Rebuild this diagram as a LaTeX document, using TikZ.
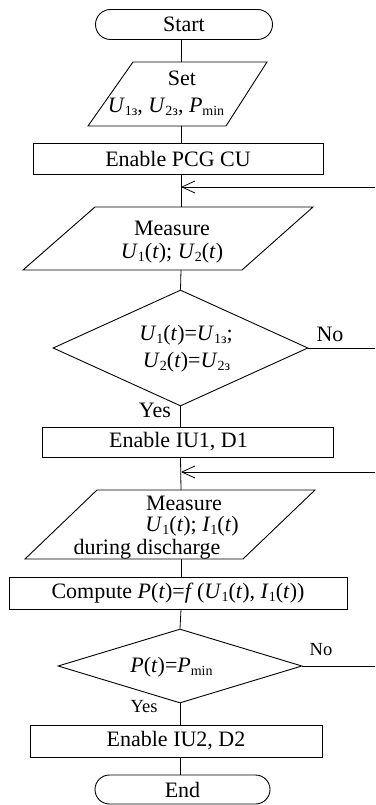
\documentclass[tikz,border=0pt]{standalone}
\usepackage{fontspec}
\setmainfont{Liberation Serif}
\usetikzlibrary{arrows.meta,shapes.misc,shapes.geometric}
\newcommand\lo[1]{\raisebox{-0.3ex}{\fontsize{14}{14}\selectfont #1}}
\newcommand\iv[1]{\textit{#1}}
\begin{document}
\begin{tikzpicture}[x=1pt,y=-1pt,line width=0.9pt,
  txt/.style={font=\fontsize{22}{26}\selectfont,inner sep=0pt,align=center},
  sml/.style={font=\fontsize{18.5}{22}\selectfont,inner sep=0pt},
  term/.style={rounded rectangle,draw,txt,minimum width=177pt,minimum height=30pt},
  box/.style={rectangle,draw,txt,minimum height=31pt},
  dia/.style={diamond,draw,inner sep=0pt},
  con/.style={line width=0.8pt},
  back/.style={line width=0.8pt,-{Straight Barb[length=13pt,width=12pt,line width=0.8pt]}}]
\useasboundingbox (0,0) rectangle (375,805);

% terminals and boxes
\node[term] (start) at (184,24.5) {Start};
\node[box,minimum width=290pt] (pcg) at (178,158.5) {Enable PCG CU};
\node[box,minimum width=291pt,minimum height=30pt] (iu1) at (187.5,442) {};
\node[txt] (iu1t) at (178.5,442) {Enable IU1, D1};
\node[box,minimum width=338pt,minimum height=32pt] (comp) at (178,593) {Compute \iv{P}(\iv{t})=\iv{f}\,(\iv{U}\lo{1}(\iv{t}), \iv{I}\lo{1}(\iv{t}))};
\node[box,minimum width=292pt,minimum height=32pt] (iu2) at (176,741) {Enable IU2, D2};
\node[term,minimum width=175pt,minimum height=29pt] (end) at (182.5,789.5) {End};

% parallelograms
\draw (133,62) coordinate (set-t) -- (267,62) -- (226,126) -- (88,126) -- cycle;
\coordinate (set-in) at (181,62);
\coordinate (set-out) at (181,126);
\node[txt] (set1) at (182,78) {Set};
\node[txt] (set2) at (166,107) {\iv{U}\lo{1з}, \iv{U}\lo{2з}, \iv{P}\lo{min}};

\draw (95,207) -- (313,207) -- (242,270) -- (23,270) -- cycle;
\coordinate (m1-in) at (181,207);
\coordinate (m1-out) at (181,270);
\node[txt] (m1a) at (172,228) {Measure};
\node[txt] (m1b) at (172,253) {\iv{U}\lo{1}(\iv{t}); \iv{U}\lo{2}(\iv{t})};

\draw (97,490) -- (315,490) -- (243,559) -- (25,559) -- cycle;
\coordinate (m2-in) at (181,490);
\coordinate (m2-out) at (181,559);
\node[txt] (m2a) at (184,503) {Measure};
\node[txt] (m2b) at (192,526) {\iv{U}\lo{1}(\iv{t}); \iv{I}\lo{1}(\iv{t})};
\node[txt] (m2c) at (147,549.5) {during discharge};

% decisions
\node[dia,minimum width=255pt,minimum height=116pt] (d1) at (180.5,348) {};
\node[txt] (d1a) at (186,335) {\iv{U}\lo{1}(\iv{t})=\iv{U}\lo{1з};};
\node[txt] (d1b) at (186.5,362) {\iv{U}\lo{2}(\iv{t})=\iv{U}\lo{2з}};
\node[dia,minimum width=244pt,minimum height=74pt] (d2) at (180,666) {};
\node[txt] (d2a) at (171.5,667) {\iv{P}(\iv{t})=\iv{P}\lo{min}};

% labels
\node[txt] (no1) at (330,334) {No};
\node[txt] (yes1) at (155,410) {Yes};
\node[sml] (no2) at (321,650) {No};
\node[sml] (yes2) at (144,707) {Yes};

% loop-back entry points
\coordinate (r1) at (375,187);
\coordinate (a1) at (181,187);
\coordinate (r2) at (375,472);
\coordinate (a2) at (181,472);
\coordinate (r3) at (375,348);
\coordinate (r4) at (375,666);

% connectors
\draw[con] (start.south -| set-in) -- (set-in);
\draw[con] (set-out) -- (set-out |- pcg.north);
\draw[con] (set-out |- pcg.south) -- (m1-in);
\draw[back] (r1) -- (a1);
\draw[con] (m1-out) -- (d1.north);
\draw[con] (d1.south) -- (d1.south |- iu1.north);
\draw[con] (d1.east) -- (r3);
\draw[con] (d1.south |- iu1.south) -- (m2-in);
\draw[back] (r2) -- (a2);
\draw[con] (m2-out) -- (m2-out |- comp.north);
\draw[con] (m2-out |- comp.south) -- (d2.north);
\draw[con] (d2.east) -- (r4);
\draw[con] (d2.south) -- (d2.south |- iu2.north);
\draw[con] (d2.south |- iu2.south) -- (d2.south |- end.north);
\end{tikzpicture}
\end{document}
